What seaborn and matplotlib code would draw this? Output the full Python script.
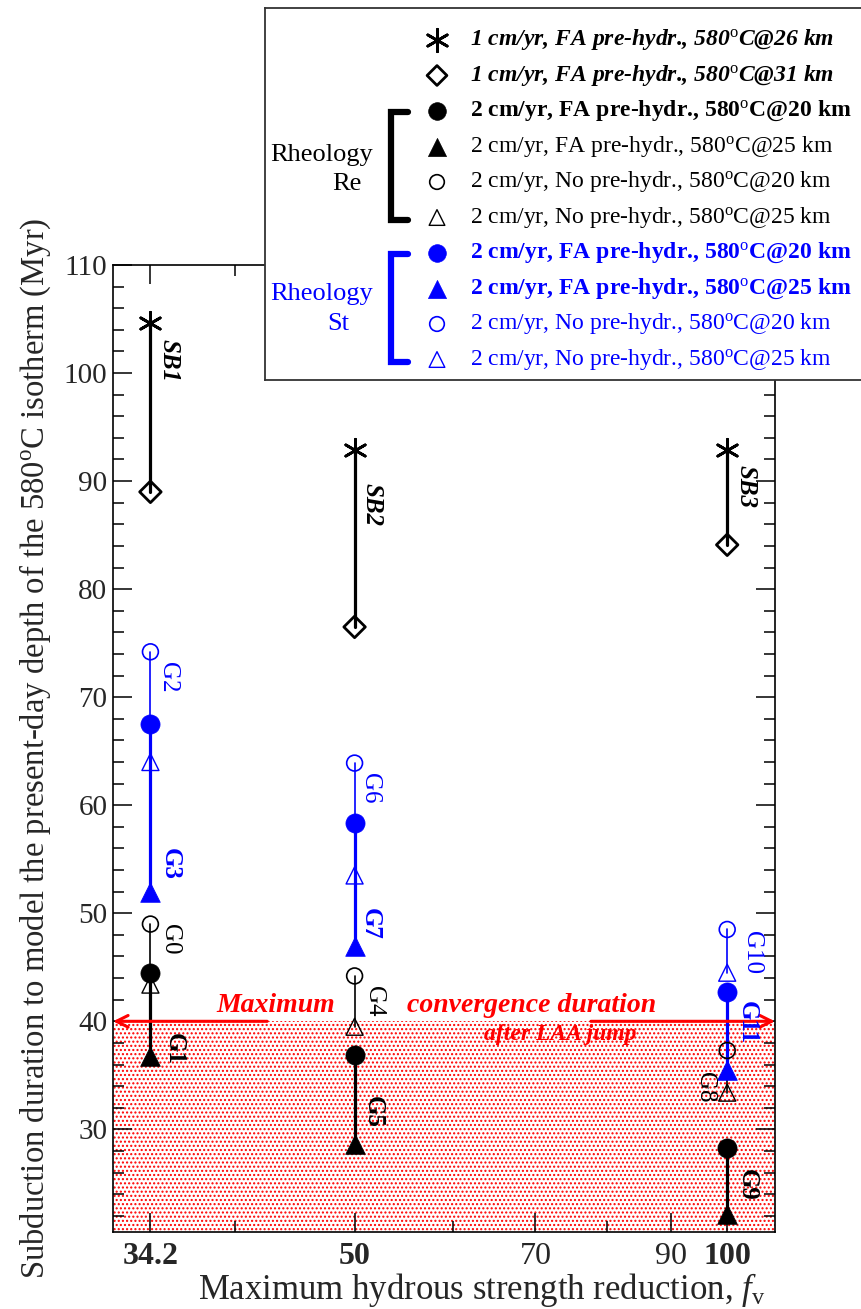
import matplotlib
matplotlib.use("Agg")
import matplotlib.pyplot as plt
from matplotlib.ticker import FixedLocator, MultipleLocator, NullFormatter
import pandas as pd
import seaborn as sns

# ---- data ----
# x: maximum hydrous strength reduction f_v (log axis)
FV = [34.2, 50, 100]

# 1 cm/yr runs (SB1-SB3)
SB_NAMES = ["SB1", "SB2", "SB3"]
SB_26KM = [104.6, 92.9, 92.9]
SB_31KM = [89.0, 76.5, 84.1]

# Rheology Re (black)
RE_FA_20 = [44.5, 36.9, 28.3]
RE_FA_25 = [36.8, 28.6, 22.2]
RE_NO_20 = [49.0, 44.2, 37.3]
RE_NO_25 = [43.4, 39.5, 33.4]

# Rheology St (blue)
ST_FA_20 = [67.5, 58.4, 42.7]
ST_FA_25 = [52.0, 47.0, 35.5]
ST_NO_20 = [74.2, 63.9, 48.5]
ST_NO_25 = [64.0, 53.5, 44.5]

# run names next to each segment, and the y where each label sits
G_RE_NO = ["G0", "G4", "G8"]
G_RE_FA = ["G1", "G5", "G9"]
G_ST_NO = ["G2", "G6", "G10"]
G_ST_FA = ["G3", "G7", "G11"]
SB_LABEL_Y = [101.2, 87.8, 89.5]
G_RE_NO_Y = [47.6, 41.9, 33.9]
G_RE_FA_Y = [37.4, 31.6, 24.9]
G_ST_NO_Y = [71.8, 61.6, 46.4]
G_ST_FA_Y = [54.6, 49.0, 39.9]

MAX_CONVERGENCE = 40  # Myr, max convergence duration after LAA jump

XTICKS = [34.2, 50, 70, 90, 100]
XTICK_LABELS = ["34.2", "50", "70", "90", "100"]
XTICK_BOLD = [True, True, False, False, True]
XMINOR = [40, 60, 80]
XLIM = (31.9, 109.3)
YLIM = (20.5, 110)

DEG = r"580$^{\rm o}$C"
LEGEND_LABELS = [
    f"1 cm/yr, FA pre-hydr., {DEG}@26 km",
    f"1 cm/yr, FA pre-hydr., {DEG}@31 km",
    f"2 cm/yr, FA pre-hydr., {DEG}@20 km",
    f"2 cm/yr, FA pre-hydr., {DEG}@25 km",
    f"2 cm/yr, No pre-hydr., {DEG}@20 km",
    f"2 cm/yr, No pre-hydr., {DEG}@25 km",
    f"2 cm/yr, FA pre-hydr., {DEG}@20 km",
    f"2 cm/yr, FA pre-hydr., {DEG}@25 km",
    f"2 cm/yr, No pre-hydr., {DEG}@20 km",
    f"2 cm/yr, No pre-hydr., {DEG}@25 km",
]

BLUE = "#0000ff"
RED = "#ff0000"
ASTER = (6, 2, 0)

# marker style per series: (values, marker, colour, filled, size, edge width)
SERIES = [
    (SB_26KM, ASTER, "black", True, 260, 2.0),
    (SB_31KM, "D", "black", False, 120, 2.0),
    (RE_FA_20, "o", "black", True, 190, 0.5),
    (RE_FA_25, "^", "black", True, 200, 0.5),
    (RE_NO_20, "o", "black", False, 130, 1.2),
    (RE_NO_25, "^", "black", False, 150, 1.0),
    (ST_FA_20, "o", BLUE, True, 190, 0.5),
    (ST_FA_25, "^", BLUE, True, 200, 0.5),
    (ST_NO_20, "o", BLUE, False, 130, 1.2),
    (ST_NO_25, "^", BLUE, False, 150, 1.0),
]
LEGEND_FONT = [("bold", "italic"), ("bold", "italic"), ("bold", "normal"),
               ("normal", "normal"), ("normal", "normal"), ("normal", "normal"),
               ("bold", "normal"), ("bold", "normal"),
               ("normal", "normal"), ("normal", "normal")]

# ---- style ----
sns.set_theme(style="ticks")
plt.rcParams["font.family"] = ["Liberation Serif", "DejaVu Serif"]
plt.rcParams["mathtext.fontset"] = "custom"
plt.rcParams["mathtext.rm"] = "Liberation Serif"
plt.rcParams["mathtext.it"] = "Liberation Serif:italic"
plt.rcParams["mathtext.bf"] = "Liberation Serif:bold"
plt.rcParams["hatch.color"] = RED
plt.rcParams["hatch.linewidth"] = 1.0

W, H = 862, 1309
fig = plt.figure(figsize=(W / 100, H / 100), dpi=100)
ax = fig.add_axes([113 / W, 1 - 1232 / H, 662 / W, 967 / H])
ax.set_xscale("log")

# shaded zone below the max convergence duration
ax.fill_between(list(XLIM), YLIM[0], MAX_CONVERGENCE, facecolor="none",
                edgecolor=RED, hatch="....", linewidth=0, zorder=0)

# connecting segments
seg_groups = [
    ("sb", SB_26KM, SB_31KM, "black", 2.3),
    ("re_no", RE_NO_20, RE_NO_25, "black", 1.2),
    ("re_fa", RE_FA_20, RE_FA_25, "black", 2.3),
    ("st_no", ST_NO_20, ST_NO_25, BLUE, 1.2),
    ("st_fa", ST_FA_20, ST_FA_25, BLUE, 2.3),
]
for name, top, bot, col, lw in seg_groups:
    rows = []
    for i, x in enumerate(FV):
        rows.append({"seg": i, "x": x, "y": top[i]})
        rows.append({"seg": i, "x": x, "y": bot[i]})
    sdf = pd.DataFrame(rows)
    sns.lineplot(data=sdf, x="x", y="y", units="seg", estimator=None, sort=False,
                 color=col, linewidth=lw, ax=ax, zorder=2)

# markers
for vals, mk, col, filled, size, ew in SERIES:
    pdf = pd.DataFrame({"x": FV, "y": vals})
    if mk == ASTER:
        sns.scatterplot(data=pdf, x="x", y="y", marker=mk, s=size, color=col,
                        linewidth=ew, ax=ax, zorder=4)
    else:
        sns.scatterplot(data=pdf, x="x", y="y", marker=mk, s=size, color=col,
                        facecolor=col if filled else "none", edgecolor=col,
                        linewidth=ew, ax=ax, zorder=4)

# run labels (rotated)
label_sets = [
    (SB_NAMES, SB_LABEL_Y, "black", "bold", "italic", [5, 4, 5]),
    (G_RE_NO, G_RE_NO_Y, "black", "normal", "normal", [6, 6, -8]),
    (G_RE_FA, G_RE_FA_Y, "black", "bold", "normal", [9, 5, 6]),
    (G_ST_NO, G_ST_NO_Y, BLUE, "normal", "normal", [5, 3, 10]),
    (G_ST_FA, G_ST_FA_Y, BLUE, "bold", "normal", [6, 3, 6]),
]
for names, ys, col, wt, st, offs in label_sets:
    for x, y, txt, dx in zip(FV, ys, names, offs):
        ax.annotate(txt, xy=(x, y), xytext=(dx, 0), textcoords="offset points",
                    rotation=270, ha="left" if dx > 0 else "right", va="center",
                    color=col, fontsize=18, fontweight=wt, fontstyle=st, zorder=5)

# max convergence arrows + text
ax.annotate("", xy=(XLIM[0], MAX_CONVERGENCE), xytext=(42.5, MAX_CONVERGENCE),
            arrowprops=dict(arrowstyle="->,head_length=0.7,head_width=0.35",
                            color=RED, lw=2.2, shrinkA=0, shrinkB=0), zorder=3)
ax.annotate("", xy=(XLIM[1], MAX_CONVERGENCE), xytext=(77.6, MAX_CONVERGENCE),
            arrowprops=dict(arrowstyle="->,head_length=0.7,head_width=0.35",
                            color=RED, lw=2.2, shrinkA=0, shrinkB=0), zorder=3)
red_txt = dict(color=RED, fontweight="bold", fontstyle="italic",
               ha="center", va="center", zorder=5)
ax.text(43.2, 41.5, "Maximum", fontsize=20, **red_txt)
ax.text(69.5, 41.5, "convergence duration", fontsize=20, **red_txt)
ax.text(73.3, 38.8, "after LAA jump", fontsize=17, **red_txt)

# axes
ax.set_xlim(*XLIM)
ax.set_ylim(*YLIM)
ax.xaxis.set_major_locator(FixedLocator(XTICKS))
ax.xaxis.set_minor_locator(FixedLocator(XMINOR))
ax.xaxis.set_minor_formatter(NullFormatter())
ticklabs = ax.set_xticklabels(XTICK_LABELS)
for t, b in zip(ticklabs, XTICK_BOLD):
    t.set_fontweight("bold" if b else "normal")
    t.set_fontsize(23)
ax.yaxis.set_major_locator(MultipleLocator(10))
ax.yaxis.set_minor_locator(MultipleLocator(2))
ax.tick_params(which="both", direction="in", top=True, right=True, width=1.1, color="black")
ax.tick_params(which="major", length=14)
ax.tick_params(which="minor", length=8)
ax.tick_params(axis="y", labelsize=21, pad=4)
ax.tick_params(axis="x", pad=7)
for s in ax.spines.values():
    s.set_linewidth(1.2)
    s.set_color("black")

ax.set_xlabel(r"Maximum hydrous strength reduction, $f_{\rm v}$", fontsize=25)
ax.xaxis.set_label_coords(0.557, -0.040)
ax.set_ylabel(r"Subduction duration to model the present-day depth of the 580$^{\rm o}$C isotherm (Myr)",
              fontsize=23.5, labelpad=8)

# ---- legend box (overlaps the top of the axes, runs off the right edge) ----
lax = fig.add_axes([265 / W, 1 - 380 / H, 640 / W, 372 / H], zorder=6)
lax.set_xlim(265, 905)
lax.set_ylim(380, 8)
lax.set_xticks([])
lax.set_yticks([])
lax.set_facecolor("white")
for s in lax.spines.values():
    s.set_linewidth(1.3)
    s.set_color("#333333")

row_y = [40 + 35.5 * i for i in range(len(LEGEND_LABELS))]
for i, ((vals, mk, col, filled, size, ew), lab, (wt, st)) in enumerate(
        zip(SERIES, LEGEND_LABELS, LEGEND_FONT)):
    ldf = pd.DataFrame({"x": [437], "y": [row_y[i]]})
    if mk == ASTER:
        sns.scatterplot(data=ldf, x="x", y="y", marker=mk, s=size, color=col,
                        linewidth=ew, ax=lax)
    else:
        sns.scatterplot(data=ldf, x="x", y="y", marker=mk, s=size * 0.85, color=col,
                        facecolor=col if filled else "none", edgecolor=col,
                        linewidth=ew, ax=lax)
    lax.text(470, row_y[i], lab, color=col, fontsize=17, fontweight=wt, fontstyle=st,
             ha="left", va="center")
lax.set_xlabel("")
lax.set_ylabel("")

# rheology brackets
for (top, bot), col, word, word_y, sub, sub_x, sub_y in [
        ((row_y[2], row_y[5]), "black", "Rheology", 155, "Re", 347, 184),
        ((row_y[6], row_y[9]), BLUE, "Rheology", 294, "St", 338, 324)]:
    lax.plot([408, 391, 391, 408], [top + 1, top + 1, bot + 2, bot + 2],
             color=col, lw=4.5, solid_joinstyle="miter")
    lax.text(322, word_y, word, color=col, fontsize=19, ha="center", va="center")
    lax.text(sub_x, sub_y, sub, color=col, fontsize=19, ha="center", va="center")

fig.savefig("out.png", dpi=100)
